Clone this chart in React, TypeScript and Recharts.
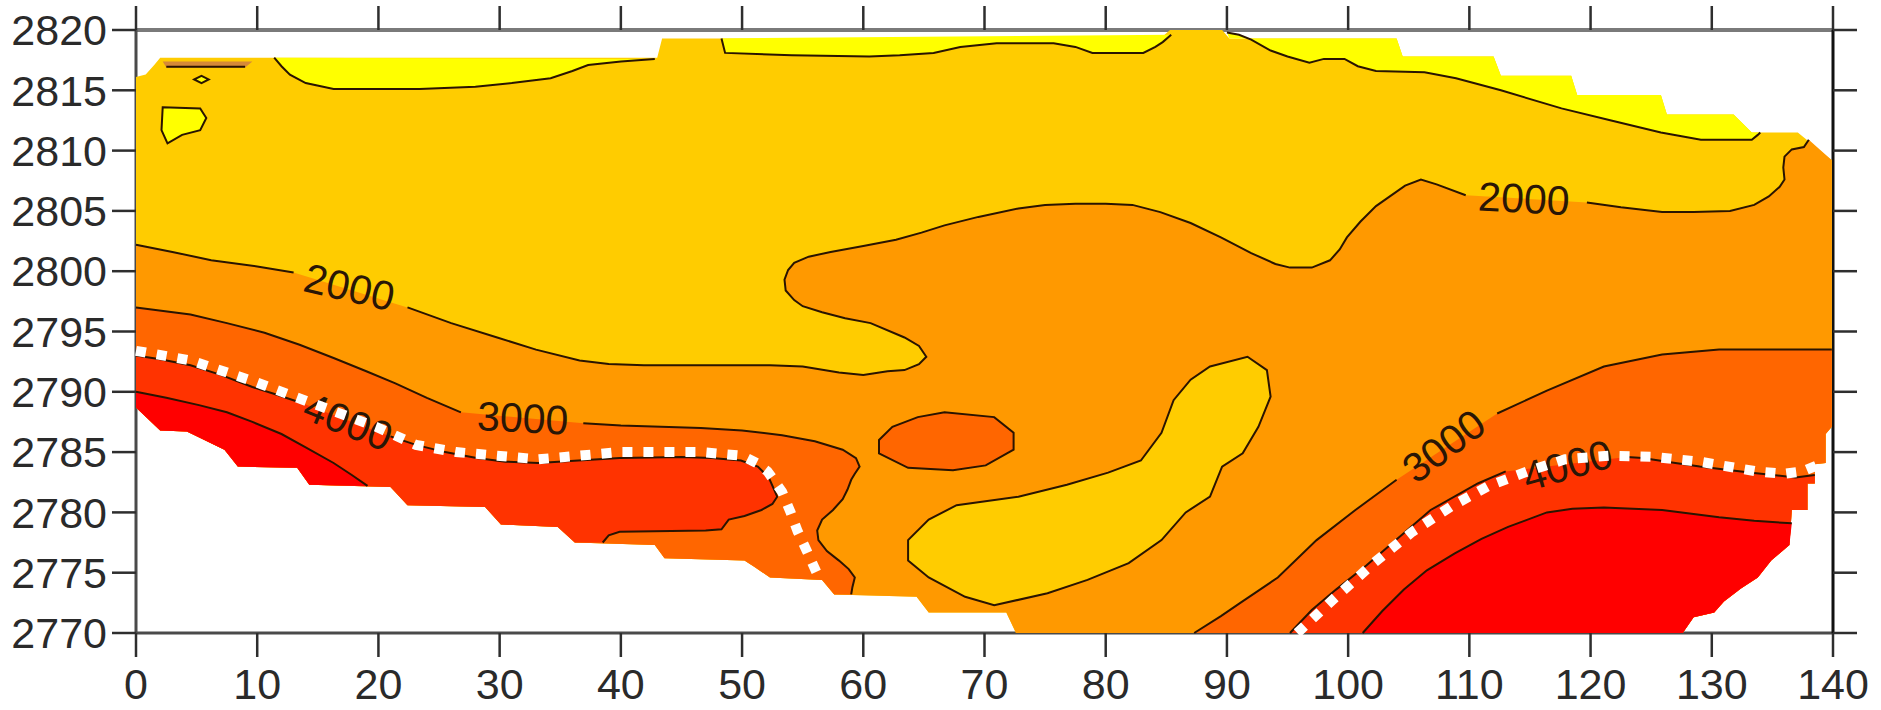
import React from 'react';
import { ScatterChart, Scatter, XAxis, YAxis } from 'recharts';

type Row = { x: number; y: number; gap?: boolean };

const FONT = '"Liberation Sans", Arial, sans-serif';

const xTicks = [0, 10, 20, 30, 40, 50, 60, 70, 80, 90, 100, 110, 120, 130, 140];
const yTicks = [2770, 2775, 2780, 2785, 2790, 2795, 2800, 2805, 2810, 2815, 2820];

// [x, y, 1 = break the drawn contour after this point]
const rows = (list: number[][]): Row[] => list.map(([x, y, g]) => ({ x, y, gap: g === 1 }));

// outline of the gridded area
const edgeTop = rows([
  [0, 2816.1], [0.8, 2816.3], [1.5, 2817.1], [2, 2817.7], [43, 2817.7], [43.4, 2819.3], [84.5, 2819.3],
  [85.3, 2820], [89.6, 2820], [90.2, 2819.3], [104, 2819.3], [104.5, 2817.8], [112, 2817.8], [112.6, 2816.2],
  [118.4, 2816.2], [118.9, 2814.6], [125.8, 2814.6], [126.3, 2813], [131.8, 2813], [133.3, 2811.5],
  [137.1, 2811.5], [139.9, 2809.2],
]);
const edgeRight = rows([
  [139.9, 2787.1], [139.4, 2786.5], [139.4, 2784.1], [138.5, 2784], [138.5, 2782.4], [137.9, 2782.4],
  [137.9, 2780.2], [136.6, 2780.2], [136.4, 2777.3], [134.9, 2776], [133.8, 2774.6], [132.4, 2773.7],
  [131, 2772.6], [130.2, 2771.7], [128.5, 2771.3], [127.6, 2770],
]);
const edgeBottom = rows([
  [72.6, 2770], [71.8, 2771.7], [65.4, 2771.7], [64.4, 2773], [57.6, 2773.2], [56.6, 2774.4], [52.3, 2774.6],
  [51, 2775.5], [50.2, 2776], [43.6, 2776.2], [42.8, 2777.3], [36.2, 2777.5], [34.8, 2778.8], [30.1, 2779],
  [28.8, 2780.45], [22.4, 2780.6], [21, 2782.1], [14.3, 2782.3], [13.3, 2783.7], [8.4, 2783.8], [7.3, 2785.2],
  [4.2, 2786.7], [2, 2786.8], [0, 2788.7],
]);

// 1000 contour pieces (yellow above)
const c1000a = rows([
  [11.4, 2817.7], [12, 2817], [12.7, 2816.3], [14, 2815.6], [16.3, 2815.1], [23.4, 2815.1], [28, 2815.3],
  [31, 2815.6], [34.2, 2816], [36, 2816.6], [37.3, 2817.1], [40, 2817.4], [42.8, 2817.6],
]);
const c1000b = rows([
  [48.3, 2819.3], [48.6, 2818.1], [54.1, 2817.9], [60.5, 2817.8], [63, 2817.9], [65.8, 2818.1], [68, 2818.6],
  [71, 2818.9], [75.7, 2818.9], [77.5, 2818.6], [78.9, 2818.1], [83.1, 2818.1], [84.1, 2818.6], [84.7, 2819],
  [85.4, 2819.6],
]);
const c1000c = rows([
  [90, 2819.8], [91, 2819.6], [92, 2819.2], [93.6, 2818.3], [95, 2817.8], [96.8, 2817.3], [98, 2817.6],
  [99.7, 2817.6], [100.8, 2817], [102.3, 2816.6], [106.3, 2816.5], [108.9, 2816], [112.6, 2815],
  [117.6, 2813.5], [121.7, 2812.5], [125.8, 2811.5], [129.1, 2810.9], [133.3, 2810.9], [133.8, 2811.3],
  [134, 2811.5],
]);
const islandYellow = rows([
  [2.2, 2813.6], [5.3, 2813.5], [5.8, 2812.7], [5.3, 2811.7], [3.8, 2811.3], [2.6, 2810.6], [2.1, 2811.7],
]);
const dotYellow = rows([[4.8, 2815.9], [5.4, 2816.2], [6, 2815.9], [5.4, 2815.6]]);
const brownStrip = rows([[2.2, 2817.4], [9.6, 2817.4], [9, 2816.9], [2.5, 2816.9]]);
const brownEdge = rows([[2.5, 2816.95], [9, 2816.95]]);

// 2000 contour (orange below)
const c2000 = rows([
  [0, 2802.2], [3, 2801.6], [6.2, 2800.9], [10, 2800.4], [13, 2799.9, 1], [22.4, 2797], [26, 2795.7],
  [29.8, 2794.5], [33, 2793.5], [36.6, 2792.6], [39, 2792.3], [41.9, 2792.2], [46.5, 2792.2], [52.3, 2792.2],
  [55, 2792.1], [58, 2791.6], [60, 2791.4], [62, 2791.7], [63.4, 2791.8], [64.6, 2792.3], [65.2, 2792.9],
  [64.6, 2793.8], [63.4, 2794.5], [60.6, 2795.7], [58.5, 2796.1], [56.6, 2796.6], [55, 2797.1], [54.3, 2797.6],
  [53.6, 2798.4], [53.5, 2799.3], [53.8, 2800.1], [54.3, 2800.7], [55.5, 2801.2], [57.3, 2801.6], [60, 2802.1],
  [62.7, 2802.6], [64.8, 2803.2], [66.7, 2803.8], [69.5, 2804.5], [72.8, 2805.2], [75, 2805.5], [77.5, 2805.6],
  [80, 2805.6], [82.2, 2805.5], [84.5, 2804.9], [87, 2804], [89.5, 2802.8], [92, 2801.5], [94, 2800.6],
  [95.2, 2800.3], [97, 2800.3], [98.5, 2800.9], [99.3, 2801.8], [99.9, 2802.8], [101, 2804.1], [102.3, 2805.4],
  [104.7, 2807.1], [106, 2807.6], [107.3, 2807.2], [109.7, 2806.3, 1], [119.7, 2805.7], [122.5, 2805.3],
  [125.9, 2804.9], [128.5, 2804.9], [131.5, 2805], [133.5, 2805.5], [134.7, 2806.2], [135.6, 2807], [136, 2807.6],
  [135.9, 2808.6], [136, 2809.5], [136.6, 2810.1], [137.6, 2810.3], [138, 2810.9],
]);
const goldIsland = rows([
  [88.6, 2792.1], [91.7, 2792.9], [93.3, 2791.8], [93.6, 2789.6], [92.6, 2787.1], [91.3, 2784.9], [89.6, 2783.8],
  [88.6, 2781.3], [86.6, 2780], [84.6, 2777.7], [81.9, 2775.8], [78.5, 2774.4], [75.2, 2773.3], [70.8, 2772.3],
  [68.4, 2773], [65.4, 2774.6], [63.7, 2776], [63.7, 2777.7], [65.4, 2779.4], [67.7, 2780.6], [72.8, 2781.3],
  [76.8, 2782.3], [80.2, 2783.3], [82.9, 2784.3], [84.6, 2786.6], [85.6, 2789.3], [87, 2791],
]);

// 3000 contour (dark orange below)
const c3000L = rows([
  [0, 2797], [4.5, 2796.4], [7.5, 2795.7], [10.6, 2794.9], [13.5, 2793.9], [16.3, 2792.8], [19, 2791.7],
  [21.4, 2790.7], [24, 2789.5], [26.8, 2788.3, 1], [36.9, 2787.4], [40, 2787.2], [46.6, 2787], [50, 2786.8],
  [53.3, 2786.4], [56, 2785.9], [58.3, 2785.2], [59.4, 2784.5], [59.7, 2783.8], [59.3, 2783.2], [59, 2782.7],
  [58.7, 2781.9], [58.3, 2781.1], [57.5, 2780.2], [56.6, 2779.4], [56.2, 2778.5], [56.3, 2777.7], [57, 2776.8],
  [58, 2776], [58.8, 2775.3], [59.3, 2774.6], [59.1, 2773.8], [59, 2773.2],
]);
const c3000R = rows([
  [87.3, 2770], [89.5, 2771.4], [91.1, 2772.5], [94.2, 2774.6], [97.4, 2777.7], [100.6, 2780.2],
  [104, 2782.7, 1], [112.3, 2788.2], [116.4, 2790.1], [121.1, 2792.1], [125.9, 2793.1], [130.6, 2793.5],
  [135, 2793.5], [139.9, 2793.5],
]);
const blob = rows([
  [61.3, 2786], [62.4, 2787.1], [64.5, 2787.9], [66.7, 2788.3], [70.8, 2787.9], [72.4, 2786.6], [72.4, 2785.2],
  [70.1, 2783.9], [67.4, 2783.5], [63.7, 2783.7], [61.3, 2784.9],
]);

// 4000 contour (red-orange below)
const c4000L = rows([
  [0, 2793], [2, 2792.7], [4.5, 2792.2], [7, 2791.4], [9.6, 2790.4], [11.5, 2789.8], [13.6, 2789.1, 1],
  [21, 2786.3], [23.1, 2785.6], [25.5, 2785], [28.1, 2784.5], [30.5, 2784.2], [33.2, 2784.1], [36.5, 2784.3],
  [39.9, 2784.5], [45, 2784.6], [47.5, 2784.5], [49.9, 2784.3], [51.3, 2783.8], [52.2, 2782.9], [52.9, 2781.3],
  [52.5, 2780.7], [51.6, 2780.2], [50.2, 2779.7], [48.9, 2779.4], [48.3, 2778.6], [47, 2778.5], [39.9, 2778.4],
  [39, 2778.1], [38.5, 2777.5],
]);
const c4000R = rows([
  [95.2, 2770], [97, 2771.9], [99, 2773.6], [101.5, 2775.6], [103.7, 2777.5], [106.8, 2780.2], [110.7, 2782.4],
  [113, 2783.4, 1], [123, 2784.6], [124.3, 2784.5], [127, 2784.1], [129, 2783.8], [133.1, 2783.3],
  [136.9, 2782.9], [138.5, 2783.1],
]);

// 5000 contour (red below)
const c5000L = rows([
  [0, 2790], [2.5, 2789.5], [5.2, 2788.9], [7.5, 2788.3], [9.6, 2787.5], [12, 2786.5], [14, 2785.4],
  [16.3, 2784.1], [17.8, 2783.1], [19.1, 2782.2],
]);
const c5000R = rows([
  [101.2, 2770], [102.8, 2771.8], [104.6, 2773.6], [106.5, 2775.2], [108.8, 2776.6], [111, 2777.8],
  [113.2, 2778.8], [116.4, 2780], [118.5, 2780.3], [121.1, 2780.4], [125.9, 2780.2], [130.6, 2779.6],
  [133.5, 2779.3], [136.6, 2779.1],
]);

// white dotted marker lines
const dotL = rows([
  [0, 2793.4], [4.5, 2792.6], [9.6, 2790.9], [14.7, 2789], [19.8, 2787.1], [23.1, 2785.6], [26.4, 2785],
  [33.2, 2784.4], [39.9, 2785], [46.6, 2785], [50, 2784.7], [51.2, 2784.1], [52.1, 2783.4], [53.3, 2781.7],
  [54, 2780], [54.6, 2778.4], [55.3, 2776.9], [56.2, 2774.9],
]);
const dotR = rows([
  [95.8, 2770], [99, 2773], [102.1, 2775.8], [105.3, 2778.4], [108.5, 2780.5], [111.6, 2782.2], [114.8, 2783.4],
  [117.9, 2784.4], [121.5, 2784.7], [125.2, 2784.6], [129, 2784.2], [133.7, 2783.4], [136, 2783.2],
  [137.5, 2783.4], [139.4, 2784.2],
]);

const contourLabels = [
  { x: 17.6, y: 2798.65, text: '2000', angle: 13 },
  { x: 31.9, y: 2787.8, text: '3000', angle: 3 },
  { x: 17.5, y: 2787.5, text: '4000', angle: 22 },
  { x: 114.5, y: 2806.0, text: '2000', angle: 3 },
  { x: 107.9, y: 2785.5, text: '3000', angle: -37 },
  { x: 118.1, y: 2783.9, text: '4000', angle: -16 },
];

const hull = [...edgeTop, ...edgeRight, ...edgeBottom];

const fills: { key: string; data: Row[]; color: string }[] = [
  { key: 'all', data: hull, color: '#ffcc00' },
  { key: 'y1', data: c1000a, color: '#ffff00' },
  { key: 'y2', data: c1000b, color: '#ffff00' },
  { key: 'y3', data: [...c1000c, ...edgeTop.filter((p) => p.x >= 90.2 && p.x < 134).reverse()], color: '#ffff00' },
  { key: 'y4', data: islandYellow, color: '#ffff00' },
  { key: 'y5', data: dotYellow, color: '#ffff00' },
  { key: 'br', data: brownStrip, color: '#d68a38' },
  { key: 'o1', data: [...c2000, edgeTop[edgeTop.length - 1], ...edgeRight, ...edgeBottom], color: '#ff9900' },
  { key: 'g1', data: goldIsland, color: '#ffcc00' },
  { key: 'd1', data: [...c3000L, ...edgeBottom.filter((p) => p.x <= 57.6)], color: '#ff6600' },
  { key: 'd2', data: [...c3000R, ...edgeRight], color: '#ff6600' },
  { key: 'd3', data: blob, color: '#ff6600' },
  { key: 'r1', data: [...c4000L, ...edgeBottom.filter((p) => p.x < 38.5)], color: '#ff3300' },
  { key: 'r2', data: [...c4000R, ...edgeRight.filter((p) => p.y < 2783.1)], color: '#ff3300' },
  { key: 'e1', data: [...c5000L, ...edgeBottom.filter((p) => p.x < 19.1)], color: '#ff0000' },
  { key: 'e2', data: [...c5000R, ...edgeRight.filter((p) => p.y < 2779.1)], color: '#ff0000' },
];

const contours: { key: string; data: Row[]; closed: boolean }[] = [
  { key: 'a', data: c1000a, closed: false },
  { key: 'b', data: c1000b, closed: false },
  { key: 'c', data: c1000c, closed: false },
  { key: 'i', data: islandYellow, closed: true },
  { key: 'dt', data: dotYellow, closed: true },
  { key: 'be', data: brownEdge, closed: false },
  { key: 'k2', data: c2000, closed: false },
  { key: 'gi', data: goldIsland, closed: true },
  { key: 'k3l', data: c3000L, closed: false },
  { key: 'k3r', data: c3000R, closed: false },
  { key: 'bl', data: blob, closed: true },
  { key: 'k4l', data: c4000L, closed: false },
  { key: 'k4r', data: c4000R, closed: false },
  { key: 'k5l', data: c5000L, closed: false },
  { key: 'k5r', data: c5000R, closed: false },
];

const noDot = () => <g />;

const toPath = (pts: { x: number; y: number }[], data: Row[], closed: boolean, gaps: boolean) =>
  pts
    .map((p, i) => `${i === 0 || (gaps && data[i - 1].gap) ? 'M' : 'L'}${p.x.toFixed(1)},${p.y.toFixed(1)}`)
    .join('') + (closed ? 'Z' : '');

const LabelMark = (p: any) => (
  <text
    x={p.cx}
    y={p.cy}
    transform={`rotate(${p.payload.angle} ${p.cx} ${p.cy})`}
    textAnchor="middle"
    dominantBaseline="central"
    fontSize={41}
    fontFamily={FONT}
    fill="#2a1606"
  >
    {p.payload.text}
  </text>
);

const axisStroke = { stroke: '#4a4a4a', strokeWidth: 3 };
const tickStroke = { stroke: '#2e2e2e', strokeWidth: 2.5 };
const tickText = { fill: '#2a2a2a', fontSize: 43, fontFamily: FONT };

export default function App() {
  return (
    <div style={{ position: 'absolute', left: 0, top: 0, fontFamily: FONT }}>
      <ScatterChart width={1880} height={709} margin={{ top: 8, right: 7, bottom: 6, left: 16 }}>
        {fills.map((f) => (
          <Scatter
            key={f.key}
            data={f.data}
            shape={noDot}
            isAnimationActive={false}
            line={(lp: any) => <path d={toPath(lp.points, f.data, true, false)} fill={f.color} stroke="none" />}
          />
        ))}
        {contours.map((c) => (
          <Scatter
            key={c.key}
            data={c.data}
            shape={noDot}
            isAnimationActive={false}
            line={(lp: any) => (
              <path d={toPath(lp.points, c.data, c.closed, true)} fill="none" stroke="#2a1400" strokeWidth={2} />
            )}
          />
        ))}
        <Scatter data={contourLabels} shape={LabelMark} isAnimationActive={false} />
        {[dotL, dotR].map((d, i) => (
          <Scatter
            key={`dot${i}`}
            data={d}
            shape={noDot}
            isAnimationActive={false}
            line={(lp: any) => (
              <path d={toPath(lp.points, d, false, false)} fill="none" stroke="#ffffff" strokeWidth={10} strokeDasharray="10 11" />
            )}
          />
        ))}
        <Scatter data={hull} xAxisId="top" yAxisId="right" shape={noDot} isAnimationActive={false} />

        <XAxis
          type="number"
          dataKey="x"
          domain={[0, 140]}
          ticks={xTicks}
          interval={0}
          height={70}
          tickSize={24}
          tickMargin={11}
          axisLine={axisStroke}
          tickLine={tickStroke}
          tick={tickText}
        />
        <XAxis
          xAxisId="top"
          orientation="top"
          type="number"
          dataKey="x"
          domain={[0, 140]}
          ticks={xTicks}
          interval={0}
          height={22}
          tickSize={24}
          axisLine={{ stroke: '#7a7a7a', strokeWidth: 4 }}
          tickLine={tickStroke}
          tick={noDot}
        />
        <YAxis
          type="number"
          dataKey="y"
          domain={[2770, 2820]}
          ticks={yTicks}
          interval={0}
          width={120}
          tickSize={24}
          tickMargin={5}
          axisLine={axisStroke}
          tickLine={tickStroke}
          tick={tickText}
        />
        <YAxis
          yAxisId="right"
          orientation="right"
          type="number"
          dataKey="y"
          domain={[2770, 2820]}
          ticks={yTicks}
          interval={0}
          width={40}
          tickSize={24}
          axisLine={{ stroke: '#111111', strokeWidth: 3 }}
          tickLine={tickStroke}
          tick={noDot}
        />
      </ScatterChart>
    </div>
  );
}
